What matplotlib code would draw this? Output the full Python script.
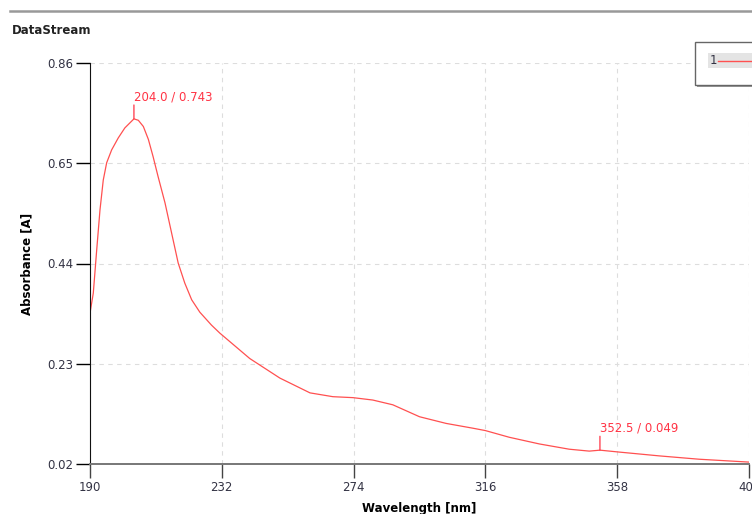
import matplotlib.pyplot as plt
from matplotlib.patches import Rectangle
from matplotlib.lines import Line2D

# spectrum
wavelength = [190.0, 191.05, 192.13, 193.18, 194.23, 195.31, 196.9, 199.0, 201.1, 204.0,
              205.4, 207.0, 208.6, 210.1, 211.7, 213.9, 216.0, 218.1, 220.2, 222.4,
              225.0, 228.7, 231.4, 240.9, 250.5, 260.1, 267.4, 273.8, 280.1, 286.5,
              295.0, 303.5, 312.0, 316.0, 323.6, 333.2, 342.7, 349.1, 352.5, 358.6,
              371.4, 384.1, 400.0]
absorbance = [0.336, 0.378, 0.468, 0.552, 0.615, 0.651, 0.678, 0.703, 0.724, 0.743,
              0.740, 0.727, 0.700, 0.664, 0.622, 0.567, 0.504, 0.441, 0.399, 0.364,
              0.338, 0.311, 0.294, 0.241, 0.200, 0.169, 0.161, 0.159, 0.154, 0.144,
              0.119, 0.105, 0.095, 0.090, 0.076, 0.062, 0.051, 0.047, 0.049, 0.045,
              0.037, 0.030, 0.024]

x_ticks = [190, 232, 274, 316, 358, 400]
y_ticks = [0.02, 0.23, 0.44, 0.65, 0.86]
peaks = [(204.0, 0.743), (352.5, 0.049)]

line_col = '#ff5050'
text_col = '#ff3344'
tick_col = '#333344'

fig = plt.figure(figsize=(7.52, 5.14), dpi=100)
ax = fig.add_axes([90/752, 50/514, 659/752, 401/514])

ax.plot(wavelength, absorbance, color=line_col, lw=0.9)
ax.set_xlim(190, 400)
ax.set_ylim(0.02, 0.86)
ax.set_xticks(x_ticks)
ax.set_yticks(y_ticks)
ax.set_yticklabels(['%.2f' % v for v in y_ticks])

ax.grid(True, ls=(0, (4, 4)), color='#dddddd', lw=0.8)
ax.tick_params(direction='out', length=10, width=1, labelsize=8.5, labelcolor=tick_col, pad=2)
ax.tick_params(axis='x', colors='#444444', labelcolor=tick_col)
for s in ['top', 'right']:
    ax.spines[s].set_visible(False)
ax.spines['left'].set_color('#111111')
ax.spines['bottom'].set_color('#777777')
ax.spines['bottom'].set_linewidth(1.4)

ax.set_xlabel('Wavelength [nm]', fontsize=8.5, fontweight='bold', labelpad=6)
ax.set_ylabel('Absorbance [A]', fontsize=8.5, fontweight='bold', labelpad=10)

# peak markers
for px, py in peaks:
    ax.annotate('', xy=(px, py), xytext=(0, 10), textcoords='offset points',
                arrowprops=dict(arrowstyle='-', color=text_col, lw=0.9, shrinkA=0, shrinkB=0))
    ax.annotate('%.1f / %.3f' % (px, py), xy=(px, py), xytext=(0, 11),
                textcoords='offset points', color=text_col, fontsize=8.5,
                ha='left', va='bottom')

# header line and title
fig.add_artist(Line2D([10/752, 1], [1 - 11/514, 1 - 11/514], color='#999999', lw=1.8))
fig.text(12/752, 1 - 30/514, 'DataStream', fontsize=8.5, fontweight='bold',
         color='#222222', va='center')

# legend box
fig.add_artist(Rectangle((697/752, 1 - 87/514), 60/752, 43/514, facecolor='#999999',
                         edgecolor='none', transform=fig.transFigure))
fig.add_artist(Rectangle((695/752, 1 - 85/514), 60/752, 43/514, facecolor='white',
                         edgecolor='#666666', lw=1, transform=fig.transFigure))
fig.add_artist(Rectangle((708/752, 1 - 68/514), 50/752, 15/514, facecolor='#e4e4e4',
                         edgecolor='none', transform=fig.transFigure))
fig.text(710/752, 1 - 61/514, '1', fontsize=8.5, color=tick_col, va='center')
fig.add_artist(Line2D([718/752, 752/752], [1 - 61/514, 1 - 61/514], color=line_col, lw=1.0))

fig.savefig('out.png', dpi=100)
